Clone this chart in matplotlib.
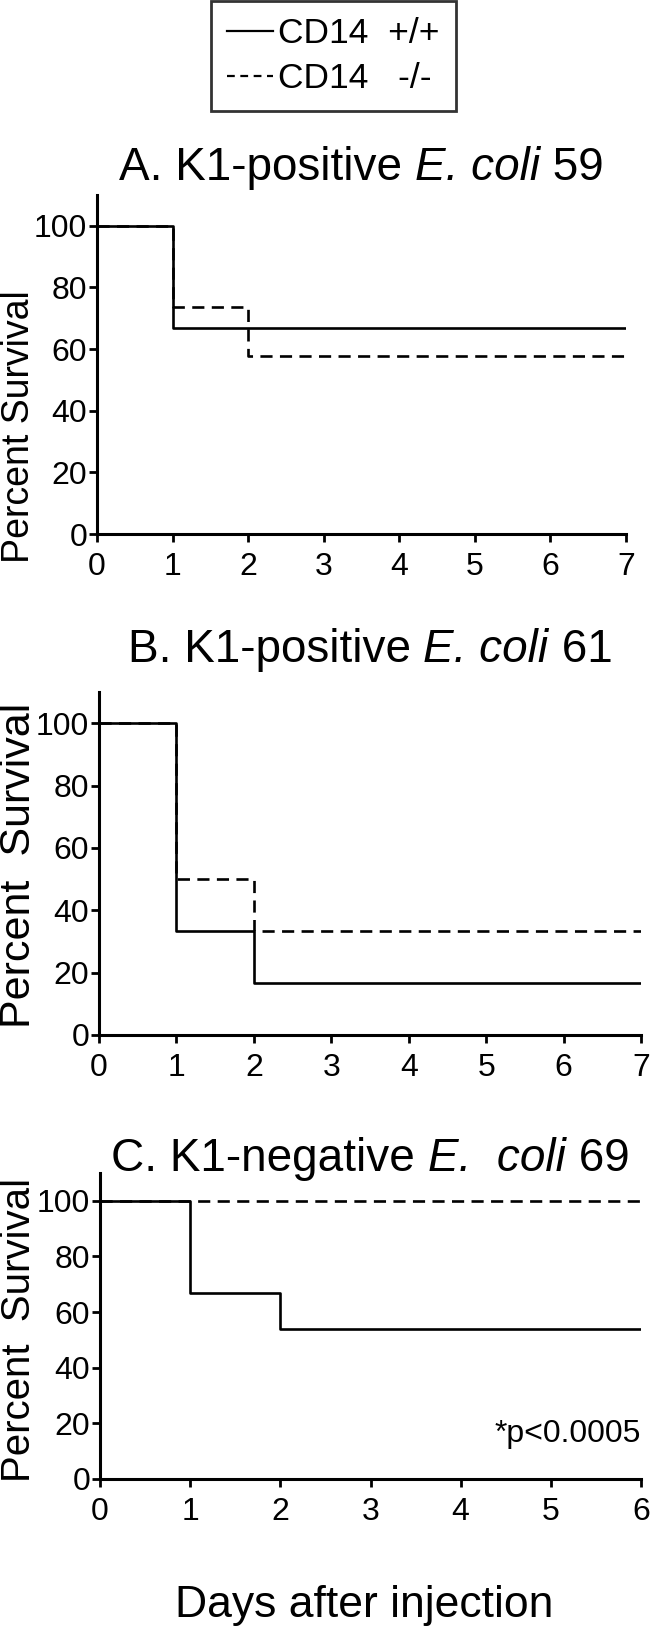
import matplotlib
matplotlib.use("Agg")
import matplotlib.pyplot as plt
from matplotlib.lines import Line2D
from matplotlib.offsetbox import TextArea, HPacker, AnnotationBbox

# ---- data ----
days_A = [0, 1, 2, 7]
wt_A = [100, 66.7, 66.7, 66.7]
ko_A = [100, 73.7, 57.9, 57.9]

days_B = [0, 1, 2, 7]
wt_B = [100, 33.3, 16.7, 16.7]
ko_B = [100, 50.0, 33.3, 33.3]

days_C = [0, 1, 2, 6]
wt_C = [100, 66.7, 53.8, 53.8]
ko_C = [100, 100, 100, 100]

titles = [("A. K1-positive ", "E. coli", " 59"),
          ("B. K1-positive ", "E. coli", " 61"),
          ("C. K1-negative ", "E.  coli", " 69")]
ylabels = ["Percent Survival", "Percent  Survival", "Percent  Survival"]
legend_labels = ["CD14  +/+", "CD14   -/-"]
yticks = [0, 20, 40, 60, 80, 100]

plt.rcParams['font.family'] = ['Liberation Sans', 'DejaVu Sans']

W, H = 650, 1645
fig = plt.figure(figsize=(W / 100, H / 100), dpi=100)

# axes rectangles in pixels: (x0, x_end, y_top, y_bottom)
rects = [(97, 626.0, 195, 534),
         (99, 641.0, 692, 1035),
         (100, 641.0, 1173, 1479)]
title_y = [168, 650, 1159]
ylab = [(427, 27), (865, 31), (1330, 29)]

data = [(days_A, wt_A, ko_A), (days_B, wt_B, ko_B), (days_C, wt_C, ko_C)]
lw = 1.9
handles = [Line2D([], [], color='black', lw=1.6),
           Line2D([], [], color='black', lw=1.6, linestyle=(0, (3.5, 2.5)))]
for i, (r, (d, wt, ko)) in enumerate(zip(rects, data)):
    x0, x1, yt, yb = r
    ax = fig.add_axes([x0 / W, 1 - yb / H, (x1 - x0) / W, (yb - yt) / H])
    ax.plot(d, ko, drawstyle='steps-post', color='black', lw=lw,
            linestyle=(0, (4.6, 2.8)))
    ax.plot(d, wt, drawstyle='steps-post', color='black', lw=lw)
    ax.set_xlim(0, d[-1])
    ax.set_ylim(0, 110)
    ax.set_xticks(range(0, d[-1] + 1))
    ax.set_yticks(yticks)
    for s in ['top', 'right']:
        ax.spines[s].set_visible(False)
    for s in ['left', 'bottom']:
        ax.spines[s].set_linewidth(2.2)
    ax.tick_params(direction='out', length=6, width=2.0, labelsize=23)
    ax.tick_params(axis='y', pad=1)
    ax.tick_params(axis='x', pad=7)
    ax.patch.set_alpha(0)
    cx = (x0 + x1) / 2 / W
    t1, t2, t3 = titles[i]
    parts = [TextArea(t1, textprops=dict(fontsize=33)),
             TextArea(t2, textprops=dict(fontsize=33, style='italic')),
             TextArea(t3, textprops=dict(fontsize=33))]
    pack = HPacker(children=parts, align='baseline', pad=0, sep=0)
    ab = AnnotationBbox(pack, (cx, 1 - title_y[i] / H), xycoords='figure fraction',
                        frameon=False, box_alignment=(0.5, 0.5), pad=0)
    fig.add_artist(ab)
    yc, fs = ylab[i]
    fig.text(19 / W, 1 - yc / H, ylabels[i], rotation=90, ha='center',
             va='center', fontsize=fs)
    if i == 2:
        ax.text(6, 16, "*p<0.0005", ha='right', va='center', fontsize=23)
        fig.text((x0 + x1) / 2 / W - 0.01, 1 - 1606 / H, "Days after injection",
                 ha='center', va='center', fontsize=32)

leg = fig.legend(handles, legend_labels, loc='upper center',
                 bbox_to_anchor=(333.5 / W, 1 - 1 / H), fontsize=25.5,
                 frameon=True, fancybox=False, handlelength=1.3,
                 handletextpad=0.15, labelspacing=0.35, borderpad=0.45,
                 borderaxespad=0)
leg.get_frame().set_edgecolor('black')
leg.get_frame().set_linewidth(2.0)

fig.savefig("out.png", dpi=100, facecolor='white')
